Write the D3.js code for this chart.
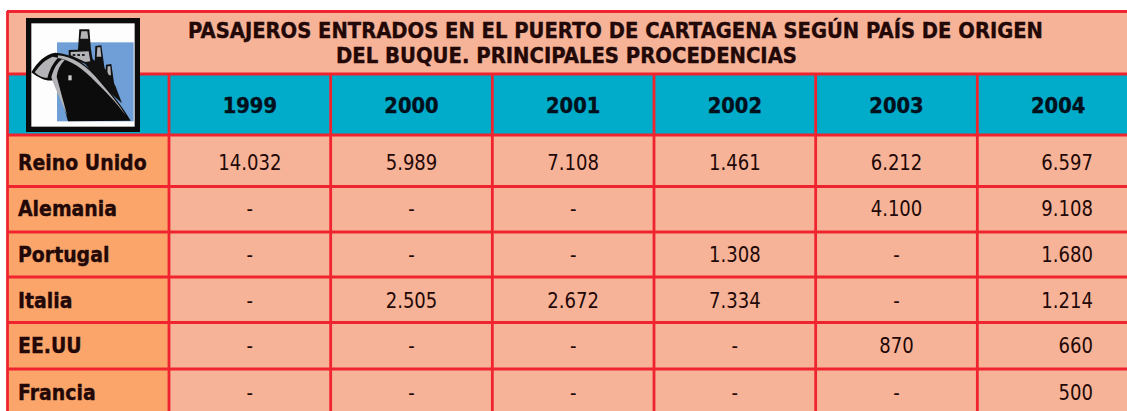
<!DOCTYPE html>
<html>
<head>
<meta charset="utf-8">
<script src="https://cdn.jsdelivr.net/npm/d3@7"></script>
<style>
  html, body { margin: 0; padding: 0; background: #fff; overflow: hidden; }
  svg { display: block; }
  .title, .year, .country { stroke: currentColor; stroke-width: 0.4px; }
</style>
</head>
<body>
<div id="chart"></div>
<script>
// Table content
const titleLines = [
    "PASAJEROS ENTRADOS EN EL PUERTO DE CARTAGENA SEGÚN PAÍS DE ORIGEN",
    "DEL BUQUE. PRINCIPALES PROCEDENCIAS"
];
const years = ["1999", "2000", "2001", "2002", "2003", "2004"];
const countries = ["Reino Unido", "Alemania", "Portugal", "Italia", "EE.UU", "Francia"];

// null is printed as a dash, "" is an empty cell
const reinoUnido = [14032, 5989, 7108, 1461, 6212, 6597];
const alemania = [null, null, null, "", 4100, 9108];
const portugal = [null, null, null, 1308, null, 1680];
const italia = [null, 2505, 2672, 7334, null, 1214];
const eeuu = [null, null, null, null, 870, 660];
const francia = [null, null, null, null, null, 500];
const rows = [reinoUnido, alemania, portugal, italia, eeuu, francia];

// Layout
const width = 1127, height = 411;
const tableLeft = 7, labelRight = 169, tableRight = 1139;
const tableTop = 11, titleBottom = 74, headBottom = 135;
const rowLines = [186.5, 232, 277, 322.5, 369];
const baselines = [170, 216, 262, 308, 353, 400];
const lastColRight = 1093;

const lineColor = "#f0242f", cellColor = "#f7b398", labelColor = "#fba56b",
      headColor = "#00acc9", textColor = "#220806";
const font = "'DejaVu Sans', sans-serif";

const x = d3.scaleBand().domain(years).range([labelRight, tableRight]);
const y = d3.scaleOrdinal().domain(countries).range(baselines);
const number = d3.formatLocale({ decimal: ",", thousands: ".", grouping: [3], currency: ["", ""] }).format(",d");

const svg = d3.select("#chart").append("svg")
    .attr("width", width)
    .attr("height", height)
    .style("font-family", font);

// Backgrounds
svg.append("rect").attr("x", tableLeft).attr("y", tableTop).attr("width", width - tableLeft).attr("height", height - tableTop).attr("fill", cellColor);
svg.append("rect").attr("x", tableLeft).attr("y", titleBottom).attr("width", width - tableLeft).attr("height", headBottom - titleBottom).attr("fill", headColor);
svg.append("rect").attr("x", tableLeft).attr("y", headBottom).attr("width", labelRight - tableLeft).attr("height", height - headBottom).attr("fill", labelColor);

// Grid lines
const hLines = [tableTop + 0.5, titleBottom, headBottom].concat(rowLines);
svg.selectAll(".hline").data(hLines).join("line")
    .attr("class", "hline")
    .attr("x1", tableLeft).attr("x2", width)
    .attr("y1", d => d).attr("y2", d => d)
    .attr("stroke", lineColor)
    .attr("stroke-width", 2.8);
svg.selectAll(".vline").data(years).join("line")
    .attr("class", "vline")
    .attr("x1", d => x(d)).attr("x2", d => x(d))
    .attr("y1", titleBottom).attr("y2", height)
    .attr("stroke", lineColor)
    .attr("stroke-width", 2.8);
svg.append("line")
    .attr("x1", tableLeft + 0.5).attr("x2", tableLeft + 0.5)
    .attr("y1", tableTop).attr("y2", height)
    .attr("stroke", lineColor)
    .attr("stroke-width", 2.8);

// Title
svg.selectAll(".title").data(titleLines).join("text")
    .attr("class", "title")
    .attr("x", (d, i) => i === 0 ? 188 : 336)
    .attr("y", (d, i) => i === 0 ? 38 : 63)
    .attr("textLength", (d, i) => i === 0 ? 855 : 461)
    .attr("lengthAdjust", "spacingAndGlyphs")
    .attr("font-size", 21)
    .attr("font-weight", "bold")
    .attr("fill", textColor)
    .style("color", textColor)
    .text(d => d);

// Text squeezed sideways, the original face is narrower than DejaVu
function squeezed(sel, px, py, k) {
    sel.attr("transform", `translate(${px},${py}) scale(${k},1)`);
}

// Year headers
svg.selectAll(".year").data(years).join("text")
    .attr("class", "year")
    .attr("text-anchor", "middle")
    .attr("font-size", 21)
    .attr("font-weight", "bold")
    .attr("fill", "#00101c")
    .style("color", "#00101c")
    .text(d => d)
    .each(function (d) {
        squeezed(d3.select(this), x(d) + x.bandwidth() / 2, 113, 0.93);
    });

// Country labels
svg.selectAll(".country").data(countries).join("text")
    .attr("class", "country")
    .attr("font-size", 21)
    .attr("font-weight", "bold")
    .attr("fill", textColor)
    .style("color", textColor)
    .text(d => d)
    .each(function (d) {
        squeezed(d3.select(this), 18, y(d), 0.9);
    });

// Values, the last column is right aligned in the original
const cells = rows.flatMap((values, r) => values.map((v, c) => ({ country: countries[r], year: years[c], value: v })));
svg.selectAll(".cell").data(cells).join("text")
    .attr("class", "cell")
    .attr("text-anchor", d => d.year === "2004" ? "end" : "middle")
    .attr("font-size", 21)
    .attr("fill", textColor)
    .text(d => d.value === null ? "-" : d.value === "" ? "" : number(d.value))
    .each(function (d) {
        const px = d.year === "2004" ? lastColRight : x(d.year) + x.bandwidth() / 2;
        squeezed(d3.select(this), px, y(d.country), 0.86);
    });

// Ship icon, traced by hand on a 366 unit box
const icon = svg.append("g").attr("transform", "translate(22,14) scale(0.3333)");
icon.append("rect").attr("x", 12).attr("y", 12).attr("width", 342).attr("height", 342).attr("fill", "#0c0c0c");
icon.append("rect").attr("x", 28).attr("y", 28).attr("width", 310).attr("height", 310).attr("fill", "#fdfdfd");
icon.append("rect").attr("x", 105).attr("y", 85).attr("width", 230).attr("height", 237).attr("fill", "#6f9fd6");

// funnels
icon.append("path").attr("fill", "#111")
    .attr("d", "M172,46 L202,46 L207,108 L168,108 Z M220,96 L238,94 L248,165 L218,150 Z M252,152 L268,150 L278,220 L250,195 Z");
icon.append("path").attr("fill", "#b4b4b8")
    .attr("d", "M178,52 L196,52 L199,74 L175,74 Z M226,100 L235,100 L238,128 L224,128 Z M257,157 L265,157 L267,184 L256,184 Z");
// upper decks behind the hull
icon.append("path").attr("fill", "#111")
    .attr("d", "M205,130 L250,165 L280,215 L300,268 L240,215 L190,150 Z");

// hull
icon.append("path").attr("fill", "#0c0c0c")
    .attr("d", "M28,175 C45,145 70,120 100,116 C150,118 195,150 235,200 C270,240 300,275 326,320 L138,322 C128,290 118,240 104,195 C85,205 60,200 28,175 Z");
icon.append("path").attr("fill", "#b4b4b8")
    .attr("d", "M38,175 C52,155 70,136 92,128 L108,131 C92,148 82,168 76,192 C62,192 50,186 38,175 Z");
icon.append("path").attr("fill", "#b4b4b8")
    .attr("d", "M88,190 C94,165 106,146 120,136 L128,138 C114,152 106,170 104,188 L136,306 C118,262 100,225 88,190 Z");
icon.append("path").attr("fill", "#b4b4b8")
    .attr("d", "M108,124 C150,126 195,155 235,205 C265,240 290,270 312,305 C280,262 250,232 222,205 C185,165 145,137 108,132 Z");
icon.append("rect").attr("x", 139).attr("y", 184).attr("width", 10).attr("height", 15).attr("fill", "#c8c8cc");

// cabin with its windows
icon.append("path").attr("fill", "#111")
    .attr("d", "M140,108 L207,106 L214,150 L190,150 L140,128 Z");
icon.append("path").attr("fill", "#b4b4b8")
    .attr("d", "M146,114 L200,112 L205,142 L190,144 L146,124 Z");
icon.append("path").attr("fill", "#222")
    .attr("d", "M152,120 h8 v6 h-8 Z M166,120 h8 v6 h-8 Z M180,120 h8 v6 h-8 Z");
</script>
</body>
</html>
